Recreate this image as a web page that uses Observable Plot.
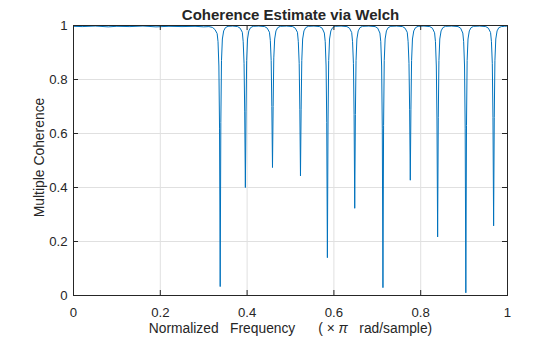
<!DOCTYPE html>
<html><head><meta charset="utf-8">
<script src="https://cdn.jsdelivr.net/npm/d3@7"></script>
<script src="https://cdn.jsdelivr.net/npm/@observablehq/plot@0.6"></script>
<style>
body{margin:0;background:#fff}
svg text{white-space:pre}
</style>
</head><body><div id="chart"></div>
<script>
const titleText = "Coherence Estimate via Welch";
const xLabel = "Normalized   Frequency      ( × π   rad/sample)";
const yLabel = "Multiple Coherence";
const xTicks = [0, 0.2, 0.4, 0.6, 0.8, 1];
const yTicks = [0, 0.2, 0.4, 0.6, 0.8, 1];

const freq = [
  0, 0.02, 0.05, 0.08, 0.10, 0.13, 0.16, 0.19, 0.22, 0.25, 0.28, 0.30, 0.312,
  0.320, 0.326, 0.331, 0.333, 0.335, 0.3365, 0.338, 0.3395, 0.341, 0.343, 0.346, 0.350, 0.356,
  0.367,
  0.378, 0.384, 0.389, 0.391, 0.393, 0.3945, 0.396, 0.3975, 0.399, 0.401, 0.404, 0.408, 0.414,
  0.427,
  0.4405, 0.4465, 0.4515, 0.4535, 0.4555, 0.457, 0.4585, 0.46, 0.4615, 0.4635, 0.4665, 0.4705, 0.4765,
  0.491,
  0.505, 0.511, 0.516, 0.518, 0.520, 0.5215, 0.523, 0.5245, 0.526, 0.528, 0.531, 0.535, 0.541,
  0.554,
  0.567, 0.573, 0.578, 0.580, 0.582, 0.5835, 0.585, 0.5865, 0.588, 0.590, 0.593, 0.597, 0.603,
  0.6165,
  0.630, 0.636, 0.641, 0.643, 0.645, 0.6465, 0.648, 0.6495, 0.651, 0.653, 0.656, 0.660, 0.666,
  0.6805,
  0.695, 0.701, 0.706, 0.708, 0.710, 0.7115, 0.713, 0.7145, 0.716, 0.718, 0.721, 0.725, 0.731,
  0.7445,
  0.758, 0.764, 0.769, 0.771, 0.773, 0.7745, 0.776, 0.7775, 0.779, 0.781, 0.784, 0.788, 0.794,
  0.8075,
  0.821, 0.827, 0.832, 0.834, 0.836, 0.8375, 0.839, 0.8405, 0.842, 0.844, 0.847, 0.851, 0.857,
  0.8715,
  0.886, 0.892, 0.897, 0.899, 0.901, 0.9025, 0.904, 0.9055, 0.907, 0.909, 0.912, 0.916, 0.922,
  0.936,
  0.950, 0.956, 0.961, 0.963, 0.965, 0.9665, 0.968, 0.9695, 0.971, 0.973, 0.976, 0.980, 0.986,
  0.993, 1.0
];

const coherence = [
  0.997, 0.996, 0.998, 0.995, 0.997, 0.996, 0.998, 0.995, 0.997, 0.996, 0.997, 0.995, 0.996,
  0.993, 0.985, 0.97, 0.94, 0.85, 0.62, 0.033, 0.64, 0.87, 0.95, 0.98, 0.992, 0.997,
  0.998,
  0.996, 0.99, 0.975, 0.94, 0.86, 0.68, 0.40, 0.68, 0.87, 0.95, 0.98, 0.992, 0.997,
  0.998,
  0.996, 0.99, 0.975, 0.945, 0.87, 0.70, 0.474, 0.70, 0.88, 0.95, 0.98, 0.992, 0.997,
  0.998,
  0.996, 0.99, 0.975, 0.94, 0.86, 0.69, 0.443, 0.69, 0.87, 0.95, 0.98, 0.992, 0.997,
  0.998,
  0.996, 0.99, 0.972, 0.94, 0.85, 0.64, 0.14, 0.65, 0.87, 0.95, 0.98, 0.992, 0.997,
  0.998,
  0.996, 0.99, 0.974, 0.94, 0.86, 0.67, 0.323, 0.67, 0.87, 0.95, 0.98, 0.992, 0.997,
  0.998,
  0.996, 0.99, 0.972, 0.94, 0.85, 0.62, 0.029, 0.63, 0.87, 0.95, 0.98, 0.992, 0.997,
  0.998,
  0.996, 0.99, 0.975, 0.94, 0.86, 0.69, 0.427, 0.69, 0.87, 0.95, 0.98, 0.992, 0.997,
  0.998,
  0.996, 0.99, 0.973, 0.94, 0.85, 0.65, 0.217, 0.66, 0.87, 0.95, 0.98, 0.992, 0.997,
  0.998,
  0.996, 0.99, 0.972, 0.94, 0.85, 0.62, 0.01, 0.63, 0.87, 0.95, 0.98, 0.992, 0.997,
  0.998,
  0.996, 0.99, 0.974, 0.94, 0.86, 0.66, 0.258, 0.66, 0.87, 0.95, 0.98, 0.992, 0.996,
  0.997, 0.998
];

const W = 560, H = 337;
const mT = 25, mR = 53, mB = 42, mL = 73;
const plotW = W - mL - mR, plotH = H - mT - mB;
const tickLen = 5;
const ink = "#262626";
const gridColor = "#e0e0e0";

const data = freq.map((f, i) => ({f, c: coherence[i]}));
const inner = v => v > 0 && v < 1;

const chart = Plot.plot({
  width: W, height: H,
  marginTop: mT, marginRight: mR, marginBottom: mB, marginLeft: mL,
  x: {domain: [0, 1]},
  y: {domain: [0, 1]},
  style: {fontFamily: "'Liberation Sans', Arial, Helvetica, sans-serif", fontSize: "13px", color: ink, background: "#fff"},
  marks: [
    Plot.ruleX(xTicks.filter(inner), {x: d => d, stroke: gridColor, strokeWidth: 1}),
    Plot.ruleY(yTicks.filter(inner), {y: d => d, stroke: gridColor, strokeWidth: 1}),
    Plot.line(data, {x: "f", y: "c", stroke: "#0072BD", strokeWidth: 1}),
    // inward ticks on all four sides
    Plot.ruleX(xTicks, {x: d => d, insetTop: plotH - tickLen, stroke: ink}),
    Plot.ruleX(xTicks, {x: d => d, insetBottom: plotH - tickLen, stroke: ink}),
    Plot.ruleY(yTicks, {y: d => d, insetRight: plotW - tickLen, stroke: ink}),
    Plot.ruleY(yTicks, {y: d => d, insetLeft: plotW - tickLen, stroke: ink}),
    Plot.frame({stroke: ink, strokeWidth: 1}),
    Plot.axisX({ticks: xTicks, tickSize: 0, tickPadding: 12, tickFormat: d => String(d), label: null, fontSize: 13.2, fill: ink}),
    Plot.axisY({ticks: yTicks, tickSize: 0, tickPadding: 6, tickFormat: d => String(d), label: null, fontSize: 13.2, fill: ink}),
    Plot.text([titleText], {frameAnchor: "top", dy: -10.5, lineAnchor: "middle", textAnchor: "middle", text: d => d, fontSize: 15, fontWeight: "bold", fill: ink}),
    Plot.text([xLabel], {frameAnchor: "bottom", dy: 33, lineAnchor: "middle", textAnchor: "middle", text: d => d, fontSize: 13.8, fill: ink}),
    Plot.text([yLabel], {frameAnchor: "left", dx: -34, dy: -3, lineAnchor: "middle", textAnchor: "middle", rotate: -90, text: d => d, fontSize: 13.9, fill: ink})
  ]
});

// italic pi in the x label
d3.select(chart).selectAll("text").filter(function() { return this.textContent === xLabel; }).each(function() {
  const t = d3.select(this);
  const parts = xLabel.split("π");
  t.text(null);
  t.append("tspan").text(parts[0]);
  t.append("tspan").attr("font-style", "italic").text("π");
  t.append("tspan").text(parts[1]);
});

document.getElementById("chart").appendChild(chart);
</script>
</body></html>
